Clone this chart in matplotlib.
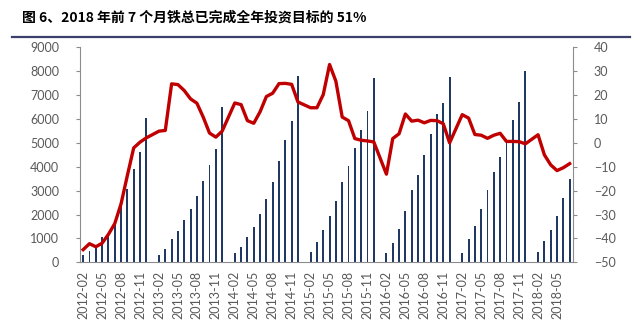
import numpy as np
import matplotlib.pyplot as plt
from matplotlib.lines import Line2D

nan = np.nan

# cumulative railway fixed-asset investment (100 million yuan); January not published
invest_2012 = [290, 490, 620, 1040, 1200, 1600, 2340, 3060, 3920, 4620, 6050]
invest_2013 = [nan, 320, 540, 970, 1320, 1780, 2230, 2770, 3400, 4090, 4740, 6520]
invest_2014 = [nan, 380, 630, 1070, 1460, 2030, 2670, 3360, 4250, 5110, 5910, 7800]
invest_2015 = [nan, 430, 850, 1370, 1920, 2570, 3350, 4040, 4780, 5530, 6340, 7720]
invest_2016 = [nan, 370, 790, 1410, 2150, 3020, 3660, 4510, 5380, 6200, 6670, 7760]
invest_2017 = [nan, 400, 960, 1520, 2230, 3020, 3790, 4400, 5180, 5960, 6690, 8000]
invest_2018 = [nan, 430, 910, 1370, 1950, 2700, 3470]

# year-on-year growth (%)
yoy_2012 = [-44.7, -42.2, -43.5, -42.0, -38.3, -33.8, -25.5, -13.6, -2.1, 0.3, 2.1]
yoy_2013 = [nan, 4.9, 5.2, 24.7, 24.4, 21.9, 18.4, 16.6, 10.8, 4.1, 2.4, 4.9]
yoy_2014 = [nan, 16.7, 16.0, 9.3, 8.2, 13.0, 19.4, 20.8, 24.8, 24.9, 24.5, 17.1]
yoy_2015 = [nan, 14.7, 14.7, 20.2, 32.8, 25.8, 10.8, 9.3, 1.8, 1.1, 0.8, 0.4]
yoy_2016 = [nan, -13.1, 1.8, 3.8, 12.1, 9.1, 9.5, 8.4, 9.4, 9.3, 8.0, 0.0]
yoy_2017 = [nan, 11.8, 10.4, 3.5, 3.2, 1.9, 3.2, 4.0, 0.6, 0.6, 0.5, -0.4]
yoy_2018 = [nan, 3.4, -5.0, -9.2, -11.6, -10.4, -8.7]

invest = np.array(invest_2012 + invest_2013 + invest_2014 + invest_2015
                  + invest_2016 + invest_2017 + invest_2018, dtype=float)
yoy = np.array(yoy_2012 + yoy_2013 + yoy_2014 + yoy_2015
               + yoy_2016 + yoy_2017 + yoy_2018, dtype=float)

months = []
for y in range(2012, 2019):
    for m in range(1, 13):
        if (y == 2012 and m < 2) or (y == 2018 and m > 7):
            continue
        months.append(f"{y}-{m:02d}")

x = np.arange(len(months))
grey = "#595959"
axis_col = "#8c8c8c"

plt.rcParams["font.family"] = ["Lato", "DejaVu Sans"]

fig = plt.figure(figsize=(6.4, 3.29), dpi=100)
ax = fig.add_axes([0.125, 0.2027, 0.77, 0.6535])

ax.bar(x, np.nan_to_num(invest), width=0.3, color="#203864", zorder=2)
ax.set_xlim(-0.5, len(months) - 0.5)
ax.set_ylim(0, 9000)
ax.set_yticks(np.arange(0, 9001, 1000))
ax.set_xticks(x[::3])
ax.set_xticklabels(months[::3], rotation=90)

ax2 = ax.twinx()
ok = ~np.isnan(yoy)
ax2.plot(x[ok], yoy[ok], color="#c00000", lw=2.4, solid_joinstyle="round", zorder=3)
ax2.set_ylim(-50, 40)
ax2.set_yticks(np.arange(-50, 41, 10))

for a in (ax, ax2):
    a.spines["top"].set_visible(False)
    for s in ("left", "right", "bottom"):
        a.spines[s].set_color(axis_col)
        a.spines[s].set_linewidth(0.8)
    a.tick_params(axis="y", colors=grey, labelsize=9, length=3, width=0.8,
                  color=axis_col, pad=12)
    a.tick_params(axis="x", colors=grey, labelsize=9, length=0, pad=6)
    for t in a.get_yticklabels() + a.get_xticklabels():
        t.set_color(grey)
ax.spines["right"].set_visible(False)
ax2.spines["left"].set_visible(False)
ax2.spines["bottom"].set_visible(False)

fig.text(0.034, 0.948, "图 6、2018 年前 7 个月铁总已完成全年投资目标的 51%",
         fontsize=10, fontweight="bold", va="center", ha="left",
         family=["Noto Sans CJK SC", "DejaVu Sans"], color="black")
fig.add_artist(Line2D([0.019, 0.985], [0.889, 0.889], transform=fig.transFigure,
                      color="#3b3f6b", lw=1.6))

fig.savefig("out.png", dpi=100)
